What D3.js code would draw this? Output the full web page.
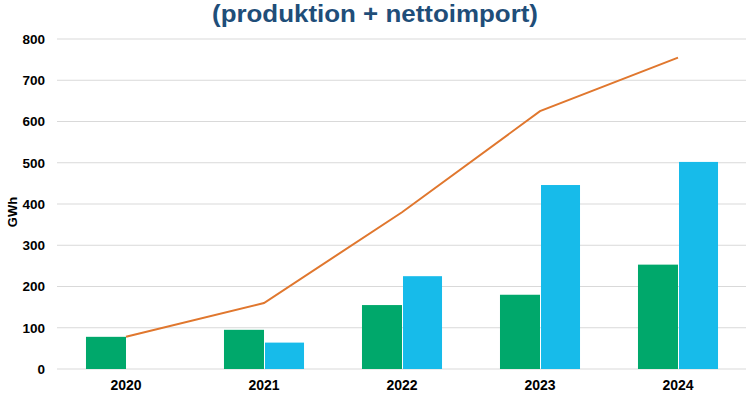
<!DOCTYPE html>
<html>
<head>
<meta charset="utf-8">
<script src="https://cdn.jsdelivr.net/npm/d3@7"></script>
<style>
  body { margin:0; background:#fff; }
  svg text { font-family: "Liberation Sans", Arial, sans-serif; font-weight: bold; }
</style>
</head>
<body>
<div class="canvas"></div>
<script>
// chart data
var years = ['2020','2021','2022','2023','2024'];
var production = [78, 95, 155, 180, 253];
var netImport = [0, 64, 225, 446, 502];
var total = [78, 160, 380, 625, 755];
var yTicks = [0,100,200,300,400,500,600,700,800];

var pageWidth = 746,
    pageHeight = 419;
var margins = {t:39, r:-1, b:50, l:57};
var plotWidth = pageWidth - margins.l - margins.r,
    plotHeight = pageHeight - margins.t - margins.b;

var svg = d3.select('.canvas')
    .append('svg')
    .attr('width', pageWidth)
    .attr('height', pageHeight);

//title, partly cut at the top like the original
svg.append('text')
    .attr('x', 375)
    .attr('y', 22)
    .attr('text-anchor', 'middle')
    .attr('textLength', 326)
    .attr('lengthAdjust', 'spacingAndGlyphs')
    .style('font-size', '24.5px')
    .style('fill', '#1F4E79')
    .text('(produktion + nettoimport)');

var plot = svg.append('g')
    .attr('transform', 'translate(' + margins.l + ',' + margins.t + ')');

var x = d3.scaleBand().domain(years).range([0, plotWidth]).paddingInner(0.42).paddingOuter(0.21);
var y = d3.scaleLinear().domain([0, 800]).range([plotHeight, 0]);

//gridlines
plot.selectAll('.grid')
    .data(yTicks)
    .enter()
    .append('line')
    .attr('class', 'grid')
    .attr('x1', 0)
    .attr('x2', plotWidth)
    .attr('y1', function(d){ return y(d); })
    .attr('y2', function(d){ return y(d); })
    .style('stroke', '#d9d9d9')
    .style('stroke-width', 1.2);

//y axis labels
var yAxis = d3.axisLeft(y).tickValues(yTicks).tickSize(0).tickPadding(12);
var yG = plot.append('g').call(yAxis);
yG.select('.domain').remove();
yG.selectAll('text').style('font-size', '13.5px').style('fill', '#000');

//x axis labels
var xAxis = d3.axisBottom(x).tickSize(0).tickPadding(11);
var xG = plot.append('g').attr('transform', 'translate(0,' + plotHeight + ')').call(xAxis);
xG.select('.domain').remove();
xG.selectAll('text').style('font-size', '14px').style('fill', '#000');

svg.append('text')
    .attr('transform', 'translate(17,212) rotate(-90)')
    .attr('text-anchor', 'middle')
    .style('font-size', '13px')
    .text('GWh');

var half = x.bandwidth() / 2;

//production bars (green)
plot.selectAll('.prod')
    .data(production)
    .enter()
    .append('rect')
    .attr('class', 'prod')
    .attr('x', function(d, i){ return x(years[i]); })
    .attr('y', function(d){ return y(d); })
    .attr('width', half)
    .attr('height', function(d){ return plotHeight - y(d); })
    .style('fill', '#00A86B');

//net import bars (blue)
plot.selectAll('.imp')
    .data(netImport)
    .enter()
    .append('rect')
    .attr('class', 'imp')
    .attr('x', function(d, i){ return x(years[i]) + half + 1; })
    .attr('y', function(d){ return y(d); })
    .attr('width', half - 1)
    .attr('height', function(d){ return plotHeight - y(d); })
    .style('fill', '#17BBEA');

//total line (orange)
var line = d3.line()
    .x(function(d, i){ return x(years[i]) + half; })
    .y(function(d){ return y(d); });

plot.append('path')
    .datum(total)
    .attr('d', line)
    .style('fill', 'none')
    .style('stroke', '#E0772E')
    .style('stroke-width', 2);
</script>
</body>
</html>
